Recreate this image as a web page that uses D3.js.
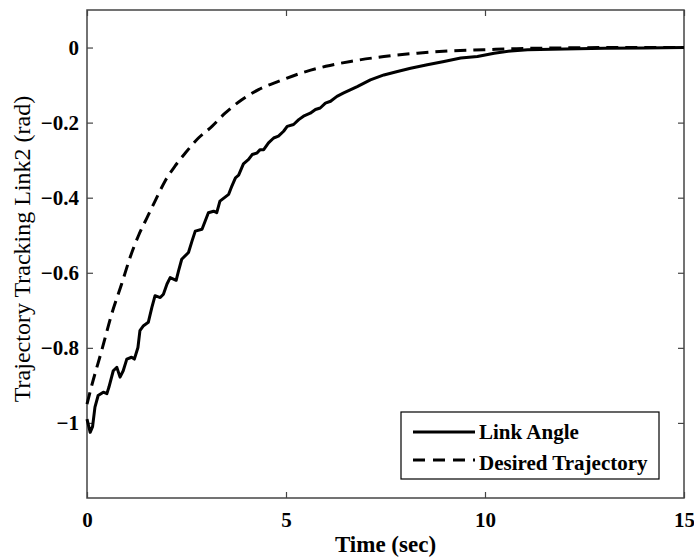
<!DOCTYPE html>
<meta charset="utf-8">
<script src="https://d3js.org/d3.v7.min.js"></script>
<title>Trajectory Tracking Link2</title>
<style>
  body { margin: 0; background: white; }
  .tick text { font-family: "Liberation Serif", "Times New Roman", serif; font-weight: bold; font-size: 21px; fill: #000; }
  .tick line { stroke: #444; stroke-width: 1.2; }
</style>
<div id="chart"></div>
<script>

// time (sec) / angle (rad) for the measured link angle
var linkTime = [0, 0.08, 0.14, 0.2, 0.28, 0.41, 0.5, 0.55, 0.66, 0.75, 0.83, 0.91, 1.0, 1.12, 1.19, 1.28,
  1.33, 1.42, 1.54, 1.63, 1.71, 1.84, 1.92, 2.01, 2.09, 2.24, 2.3, 2.38, 2.55, 2.64, 2.72, 2.89, 2.97,
  3.05, 3.18, 3.26, 3.34, 3.56, 3.64, 3.73, 3.81, 3.93, 4.06, 4.15, 4.27, 4.35, 4.44, 4.56, 4.69, 4.81,
  4.94, 5.03, 5.19, 5.32, 5.44, 5.61, 5.74, 5.86, 5.99, 6.12, 6.28, 6.45, 6.79, 7.12, 7.46, 7.8, 8.13,
  8.55, 8.97, 9.39, 9.81, 10.23, 10.65, 11.07, 12, 13, 14, 15];
var linkAngle = [-0.99, -1.025, -1.01, -0.958, -0.927, -0.918, -0.922, -0.905, -0.861, -0.852, -0.878, -0.861,
  -0.83, -0.825, -0.83, -0.799, -0.754, -0.741, -0.732, -0.692, -0.661, -0.666, -0.657, -0.63, -0.613, -0.62,
  -0.595, -0.564, -0.546, -0.515, -0.489, -0.484, -0.462, -0.44, -0.436, -0.44, -0.409, -0.391, -0.369,
  -0.347, -0.34, -0.31, -0.298, -0.285, -0.281, -0.272, -0.272, -0.254, -0.241, -0.236, -0.223, -0.21,
  -0.205, -0.192, -0.183, -0.175, -0.165, -0.161, -0.148, -0.143, -0.13, -0.121, -0.104, -0.086, -0.073,
  -0.064, -0.055, -0.046, -0.037, -0.028, -0.024, -0.015, -0.009, -0.006, -0.004, -0.002, -0.001, 0];

// desired trajectory
var desiredTime = [0, 0.12, 0.37, 0.62, 0.87, 1.08, 1.29, 1.5, 1.71, 1.96, 2.21, 2.47, 2.8, 3.14, 3.47,
  3.89, 4.31, 4.81, 5.5, 6.0, 6.62, 7.46, 8.3, 9.14, 9.97, 10.8, 12, 13.5, 15];
var desiredAngle = [-0.95, -0.9, -0.807, -0.71, -0.63, -0.56, -0.502, -0.455, -0.409, -0.356, -0.316,
  -0.281, -0.241, -0.21, -0.175, -0.139, -0.112, -0.09, -0.064, -0.05, -0.037, -0.024, -0.015, -0.009,
  -0.006, -0.003, -0.001, 0, 0];

var xTicks = [0, 5, 10, 15];
var yTicks = [0, -0.2, -0.4, -0.6, -0.8, -1];
var legendLabels = ["Link Angle", "Desired Trajectory"];

var margin = {top: 10, right: 10, bottom: 61, left: 87},
    width = 694 - margin.left - margin.right,
    height = 559 - margin.top - margin.bottom;

var svg = d3.select("#chart")
  .append("svg")
    .attr("width", 694)
    .attr("height", 559)
  .append("g")
    .attr("transform", "translate(" + margin.left + "," + margin.top + ")");

var x = d3.scaleLinear().domain([0, 15]).range([0, width]);
var y = d3.scaleLinear().domain([-1.2, 0.1]).range([height, 0]);

// ticks on all four sides, pointing inward
svg.append("g")
  .attr("transform", "translate(0," + height + ")")
  .call(d3.axisBottom(x).tickValues(xTicks).tickSizeInner(-6).tickPadding(14).tickFormat(d3.format("d")))
  .call(function(g) { g.select(".domain").remove(); });
svg.append("g")
  .call(d3.axisTop(x).tickValues(xTicks).tickSizeInner(-6).tickFormat(""))
  .call(function(g) { g.select(".domain").remove(); });
svg.append("g")
  .call(d3.axisLeft(y).tickValues(yTicks).tickSizeInner(-6).tickPadding(8).tickFormat(function(d) { return d === 0 ? "0" : d3.format("")(d); }))
  .call(function(g) { g.select(".domain").remove(); });
svg.append("g")
  .attr("transform", "translate(" + width + ",0)")
  .call(d3.axisRight(y).tickValues(yTicks).tickSizeInner(-6).tickFormat(""))
  .call(function(g) { g.select(".domain").remove(); });

svg.append("rect")
  .attr("width", width)
  .attr("height", height)
  .attr("fill", "none")
  .attr("stroke", "#444")
  .attr("stroke-width", 1.5);

var line = d3.line()
  .x(function(d) { return x(d[0]); })
  .y(function(d) { return y(d[1]); });

svg.append("path")
  .datum(d3.zip(desiredTime, desiredAngle))
  .attr("fill", "none")
  .attr("stroke", "#000")
  .attr("stroke-width", 3)
  .attr("stroke-dasharray", "12,7")
  .attr("d", line.curve(d3.curveMonotoneX));

svg.append("path")
  .datum(d3.zip(linkTime, linkAngle))
  .attr("fill", "none")
  .attr("stroke", "#000")
  .attr("stroke-width", 3)
  .attr("stroke-linejoin", "round")
  .attr("d", line.curve(d3.curveLinear));

// axis labels
svg.append("text")
  .attr("x", width / 2)
  .attr("y", height + 54)
  .attr("text-anchor", "middle")
  .style("font-family", "Liberation Serif, serif")
  .style("font-weight", "bold")
  .style("font-size", "23px")
  .text("Time (sec)");

svg.append("text")
  .attr("transform", "rotate(-90)")
  .attr("x", -(height / 2) + 5)
  .attr("y", -57)
  .attr("text-anchor", "middle")
  .style("font-family", "Liberation Serif, serif")
  .style("font-size", "24px")
  .text("Trajectory Tracking Link2 (rad)");

// legend
var lg = svg.append("g").attr("transform", "translate(314,402)");
lg.append("rect")
  .attr("width", 258)
  .attr("height", 67)
  .attr("fill", "white")
  .attr("stroke", "#000")
  .attr("stroke-width", 1.2);
lg.selectAll("line.key")
  .data(legendLabels)
  .enter()
  .append("line")
    .attr("x1", 12).attr("x2", 74)
    .attr("y1", function(d, i) { return 20 + i * 28; })
    .attr("y2", function(d, i) { return 20 + i * 28; })
    .attr("stroke", "#000")
    .attr("stroke-width", 3)
    .attr("stroke-dasharray", function(d, i) { return i ? "12,8" : null; });
lg.selectAll("text")
  .data(legendLabels)
  .enter()
  .append("text")
    .attr("x", 78)
    .attr("y", function(d, i) { return 27 + i * 31; })
    .style("font-family", "Liberation Serif, serif")
    .style("font-weight", "bold")
    .style("font-size", "21px")
    .text(function(d) { return d; });
</script>
